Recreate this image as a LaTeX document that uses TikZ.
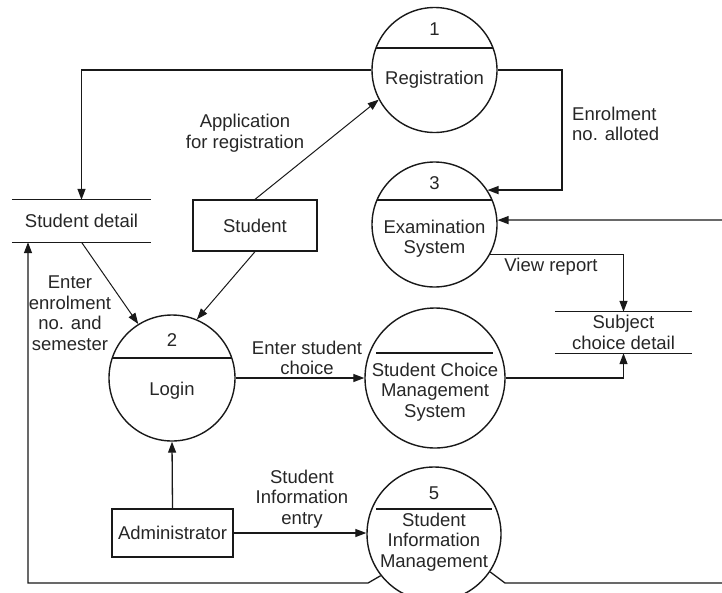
\documentclass[tikz,border=0pt]{standalone}
\usepackage{fontspec}
\setmainfont{Liberation Sans}
\usetikzlibrary{arrows.meta,calc}
\begin{document}
\begin{tikzpicture}[x=1pt,y=-1pt,
  font=\fontsize{18.5}{20.5}\selectfont,
  every node/.style={text=black!85},
  proc/.style={draw=black!90, line width=1.4pt, circle, inner sep=0pt},
  ent/.style={draw=black!90, line width=1.3pt, rectangle, inner sep=0pt},
  store/.style={inner sep=0pt, align=center},
  lbl/.style={align=center, inner sep=0pt},
  flow/.style={draw=black!90, line width=1.3pt, -{Triangle[length=11pt,width=8pt]}},
  plain/.style={draw=black!90, line width=1.3pt},
  divider/.style={draw=black!90, line width=1.4pt},
  ]
\useasboundingbox (0,0) rectangle (722,592);

% processes
\node[proc, minimum size=125pt] (reg) at (434.5,70) {};
\node[proc, minimum size=125pt] (exam) at (434.5,224.5) {};
\node[proc, minimum size=126pt] (login) at (172,378) {};
\node[proc, minimum size=140pt] (scms) at (435,378) {};
\node[proc, minimum size=134pt] (sim) at (434,534) {};

% dividers
\draw[divider] ($(reg.center)+(-58.5,-22)$) -- ($(reg.center)+(58.5,-22)$);
\draw[divider] ($(exam.center)+(-57.5,-24.5)$) -- ($(exam.center)+(57.5,-24.5)$);
\draw[divider] ($(login.center)+(-59.5,-20)$) -- ($(login.center)+(59.5,-20)$);
\draw[divider] ($(scms.center)+(-59,-25)$) -- ($(scms.center)+(58,-25)$);
\draw[divider] ($(sim.center)+(-58,-25)$) -- ($(sim.center)+(58,-25)$);

% process texts
\node (n1) at (434.5,29) {1};
\node (t1) at (434.5,80) {Registration};
\node (n3) at (434.5,183) {3};
\node[lbl] (t3) at (434.5,238.5) {Examination\\System};
\node (n2) at (172,340) {2};
\node (t2) at (172,391) {Login};
\node[lbl] (t4) at (435,392) {Student Choice\\Management\\System};
\node (n5) at (434,493) {5};
\node[lbl] (t5) at (434,542) {Student\\Information\\Management};

% entities
\node[ent, minimum width=124pt, minimum height=51pt] (student) at (255,225.5) {Student};
\node[ent, minimum width=121pt, minimum height=48pt] (admin) at (172.5,533) {Administrator};

% data stores
\node[store, minimum width=139pt, minimum height=42pt] (sd) at (81.5,221) {Student detail};
\draw[plain] (sd.north west) -- (sd.north east);
\draw[plain] (sd.south west) -- (sd.south east);
\node[store, minimum width=137pt, minimum height=41pt] (scd) at (623.5,332.5) {Subject\\choice detail};
\draw[plain] (scd.north west) -- (scd.north east);
\draw[plain] (scd.south west) -- (scd.south east);

% labels
\node[lbl] (l1) at (245,133) {Application\\for registration};
\node[lbl, align=left, anchor=west] (l2) at (572,124) {Enrolment\\no. alloted};
\node[lbl] (l3) at (551,267) {View report};
\node[lbl] (l4) at (307,358) {Enter student\\choice};
\node[lbl] (l5) at (70,313) {Enter\\enrolment\\no. and\\semester};
\node[lbl] (l6) at (302,499) {Student\\Information\\entry};

% free ends
\coordinate (rc) at (562,70);
\coordinate (rin) at (722,220);
\coordinate (bk1) at (368,583);
\coordinate (bl) at (28,583);
\coordinate (bk2) at (505,583);
\coordinate (br) at (722,583);

% flows
\draw[flow] (reg.west) -| (sd.north);
\draw[flow] (reg.east) -- (rc) |- (exam.33.5);
\draw[flow] (rin) -- (exam.4);
\draw[flow] (exam.-28) -| (scd.north);
\draw[flow] (scms.east) -| (scd.south);
\draw[flow] (login.east) -- (scms.west);
\draw[flow, line width=1pt] (student.north) -- (reg.208);
\draw[flow, line width=1pt] (student.south) -- (login.67);
\draw[flow, line width=1pt] (sd.south) -- (login.122);
\draw[flow] (admin.north) -- (login.south);
\draw[flow] (admin.east) -- (admin.east -| sim.west);
\draw[flow] (sim.218) -- (bk1) -- (bl) -- (bl |- sd.south);
\draw[plain] (sim.-34) -- (bk2) -- (br);
\end{tikzpicture}
\end{document}
